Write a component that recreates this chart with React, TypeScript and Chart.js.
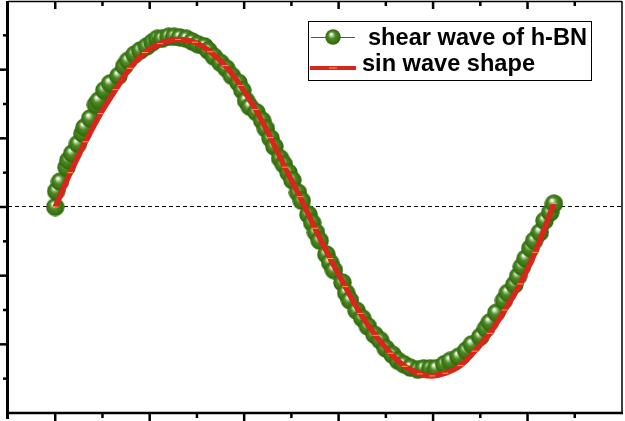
import React, { useEffect, useRef } from "react";
import { Chart, registerables } from "chart.js";

Chart.register(...registerables);

// shear wave of h-BN (measured points)
const waveX = [0, 0.01, 0.05, 0.12, 0.14, 0.18, 0.24, 0.29, 0.31, 0.37,
  0.43, 0.46, 0.52, 0.58, 0.67, 0.73, 0.77, 0.84, 0.9, 0.97,
  1.03, 1.08, 1.13, 1.2, 1.26, 1.32, 1.39, 1.45, 1.51, 1.58,
  1.62, 1.68, 1.75, 1.81, 1.87, 1.94, 1.98, 2.02, 2.06, 2.13,
  2.19, 2.23, 2.28, 2.32, 2.38, 2.42, 2.47, 2.51, 2.57, 2.61,
  2.68, 2.72, 2.76, 2.8, 2.87, 2.91, 2.95, 3.04, 3.08, 3.12,
  3.19, 3.25, 3.31, 3.38, 3.44, 3.5, 3.57, 3.63, 3.69, 3.76,
  3.84, 3.9, 3.97, 4.03, 4.12, 4.18, 4.27, 4.35, 4.41, 4.5,
  4.56, 4.6, 4.67, 4.75, 4.79, 4.86, 4.9, 4.94, 4.98, 5.03,
  5.07, 5.13, 5.18, 5.24, 5.28];
const waveY = [0, 0.23, 0.37, 0.58, 0.68, 0.78, 0.92, 1.07, 1.16, 1.29,
  1.49, 1.55, 1.7, 1.8, 1.91, 2.05, 2.13, 2.22, 2.28, 2.34,
  2.4, 2.45, 2.45, 2.48, 2.48, 2.47, 2.45, 2.41, 2.37, 2.34,
  2.28, 2.19, 2.1, 2.02, 1.91, 1.81, 1.7, 1.55, 1.46, 1.38,
  1.26, 1.14, 1.0, 0.88, 0.71, 0.62, 0.5, 0.39, 0.21, 0.09,
  -0.11, -0.23, -0.37, -0.49, -0.69, -0.81, -0.92, -1.1, -1.25, -1.36,
  -1.51, -1.62, -1.74, -1.86, -1.94, -2.06, -2.15, -2.24, -2.29, -2.34,
  -2.37, -2.35, -2.35, -2.35, -2.29, -2.24, -2.18, -2.09, -2.0, -1.89,
  -1.77, -1.68, -1.54, -1.36, -1.25, -1.13, -1.01, -0.87, -0.75, -0.6,
  -0.49, -0.37, -0.2, -0.08, 0.05];

// sin wave shape (fitted curve)
const sinX = [0, 0.16, 0.32, 0.48, 0.64, 0.79, 0.95, 1.11, 1.3, 1.48,
  1.64, 1.8, 1.96, 2.12, 2.28, 2.43, 2.59, 2.75, 2.91, 3.07,
  3.23, 3.39, 3.55, 3.7, 3.86, 3.99, 4.13, 4.29, 4.44, 4.6,
  4.76, 4.92, 5.08, 5.28];
const sinY = [0, 0.5, 0.95, 1.36, 1.71, 2.02, 2.25, 2.38, 2.44, 2.4,
  2.26, 2.06, 1.77, 1.42, 1.01, 0.58, 0.15, -0.31, -0.75, -1.16,
  -1.55, -1.87, -2.13, -2.32, -2.43, -2.46, -2.42, -2.31, -2.1, -1.84,
  -1.5, -1.12, -0.66, 0.05];

const xMajorTicks = [0, 1, 2, 3, 4, 5, 6];
const xMinorTicks = [0.5, 1.5, 2.5, 3.5, 4.5, 5.5];
const yMajorTicks = [-3, -2, -1, 0, 1, 2, 3];
const yMinorTicks = [-2.5, -1.5, -0.5, 0.5, 1.5, 2.5];

const legendLabels = ["shear wave of h-BN", "sin wave shape"];

function makeSphere(d: number): HTMLCanvasElement {
  const c = document.createElement("canvas");
  c.width = d;
  c.height = d;
  const g = c.getContext("2d")!;
  const r = d / 2;
  const grad = g.createRadialGradient(r * 0.75, r * 0.62, 0, r, r, r);
  grad.addColorStop(0, "#ffffff");
  grad.addColorStop(0.1, "#f4faef");
  grad.addColorStop(0.25, "#9cc383");
  grad.addColorStop(0.45, "#4c8a22");
  grad.addColorStop(0.75, "#3b7613");
  grad.addColorStop(1, "#2c620a");
  g.fillStyle = grad;
  g.beginPath();
  g.arc(r, r, r - 0.3, 0, Math.PI * 2);
  g.fill();
  return c;
}

export default function App() {
  const ref = useRef<HTMLCanvasElement | null>(null);

  useEffect(() => {
    if (!ref.current) return;
    const sphere = makeSphere(19);
    const legendSphere = makeSphere(16);

    const framePlugin = {
      id: "frame",
      beforeDatasetsDraw(chart: any) {
        const { ctx, chartArea } = chart;
        const y0 = chart.scales.y.getPixelForValue(0);
        ctx.save();
        ctx.strokeStyle = "#000";
        ctx.lineWidth = 1;
        ctx.setLineDash([4, 3]);
        ctx.beginPath();
        ctx.moveTo(chartArea.left, Math.round(y0) - 0.5);
        ctx.lineTo(chartArea.right, Math.round(y0) - 0.5);
        ctx.stroke();
        ctx.restore();
      },
      afterDraw(chart: any) {
        const { ctx, chartArea } = chart;
        const { left, right, top, bottom } = chartArea;
        const xs = chart.scales.x;
        const ys = chart.scales.y;
        ctx.save();
        ctx.strokeStyle = "#000";
        // top & right thin borders
        ctx.lineWidth = 1.5;
        ctx.beginPath();
        ctx.moveTo(left, top + 0.5);
        ctx.lineTo(right, top + 0.5);
        ctx.moveTo(right, top);
        ctx.lineTo(right, bottom);
        ctx.stroke();
        // bottom & left thick
        ctx.lineWidth = 2.5;
        ctx.beginPath();
        ctx.moveTo(left - 2, bottom);
        ctx.lineTo(right + 1, bottom);
        ctx.stroke();
        ctx.lineWidth = 3;
        ctx.beginPath();
        ctx.moveTo(left - 0.5, top);
        ctx.lineTo(left - 0.5, bottom + 6);
        ctx.stroke();
        // x ticks: bottom outward, top inward
        ctx.lineWidth = 2.5;
        const drawX = (vals: number[], len: number) => {
          vals.forEach((v) => {
            const px = xs.getPixelForValue(v);
            if (px < left + 2 || px > right - 2) return;
            ctx.beginPath();
            ctx.moveTo(px, bottom);
            ctx.lineTo(px, bottom + len);
            ctx.moveTo(px, top);
            ctx.lineTo(px, top + len);
            ctx.stroke();
          });
        };
        drawX(xMajorTicks, 8);
        drawX(xMinorTicks, 5);
        // y ticks: left outward
        const drawY = (vals: number[], len: number) => {
          vals.forEach((v) => {
            const py = ys.getPixelForValue(v);
            if (py < top + 2 || py > bottom - 2) return;
            ctx.beginPath();
            ctx.moveTo(left - 1, py);
            ctx.lineTo(left - 1 - len, py);
            ctx.stroke();
          });
        };
        drawY(yMajorTicks, 8);
        drawY(yMinorTicks, 4);
        ctx.restore();

        // legend
        ctx.save();
        const bx = 308.5, by = 21.5, bw = 283, bh = 59;
        ctx.fillStyle = "#fff";
        ctx.fillRect(bx, by, bw, bh);
        ctx.strokeStyle = "#000";
        ctx.lineWidth = 1;
        ctx.strokeRect(bx, by, bw, bh);
        // row 1
        ctx.strokeStyle = "#555";
        ctx.lineWidth = 1;
        ctx.beginPath();
        ctx.moveTo(311, 37.5);
        ctx.lineTo(355, 37.5);
        ctx.stroke();
        ctx.drawImage(legendSphere, 333 - 8, 37 - 8);
        // row 2
        ctx.strokeStyle = "#d8261c";
        ctx.lineWidth = 4;
        ctx.beginPath();
        ctx.moveTo(310, 68);
        ctx.lineTo(356, 68);
        ctx.stroke();
        ctx.strokeStyle = "#f0a040";
        ctx.lineWidth = 1;
        ctx.beginPath();
        ctx.moveTo(329, 68);
        ctx.lineTo(337, 68);
        ctx.stroke();
        ctx.fillStyle = "#000";
        ctx.font = "bold 23px 'Liberation Sans', Arial, sans-serif";
        ctx.textBaseline = "alphabetic";
        ctx.textAlign = "left";
        const w1 = ctx.measureText(legendLabels[0]).width;
        ctx.save();
        ctx.translate(368, 45);
        ctx.scale(219 / w1, 1);
        ctx.fillText(legendLabels[0], 0, 0);
        ctx.restore();
        const w2 = ctx.measureText(legendLabels[1]).width;
        ctx.save();
        ctx.translate(362, 71);
        ctx.scale(173 / w2, 1);
        ctx.fillText(legendLabels[1], 0, 0);
        ctx.restore();
        ctx.restore();
      },
    };

    const chart = new Chart(ref.current, {
      type: "scatter",
      data: {
        datasets: [
          {
            type: "line",
            label: legendLabels[1],
            data: sinX.map((x, i) => ({ x, y: sinY[i] })),
            borderColor: "#d8261c",
            borderWidth: 5.5,
            tension: 0.4,
            fill: false,
            pointStyle: "line",
            pointRadius: 3,
            pointBorderWidth: 1,
            pointBorderColor: "#f0a040",
            pointBackgroundColor: "#f0a040",
          } as any,
          {
            label: legendLabels[0],
            data: waveX.map((x, i) => ({ x, y: waveY[i] })),
            pointStyle: sphere as any,
            pointRadius: 9,
            showLine: false,
          },
        ],
      },
      options: {
        responsive: false,
        animation: false,
        layout: { autoPadding: false, padding: { left: 8, right: 3, top: 1, bottom: 8 } },
        scales: {
          x: { type: "linear", min: -0.5, max: 6, display: false },
          y: { type: "linear", min: -3, max: 3, display: false },
        },
        plugins: {
          legend: { display: false },
          tooltip: { enabled: false },
        },
      },
      plugins: [framePlugin],
    });
    return () => chart.destroy();
  }, []);

  return (
    <div style={{ position: "absolute", left: 0, top: 0, width: 625, height: 421, background: "#fff" }}>
      <canvas ref={ref} width={625} height={421} style={{ display: "block" }} />
    </div>
  );
}
